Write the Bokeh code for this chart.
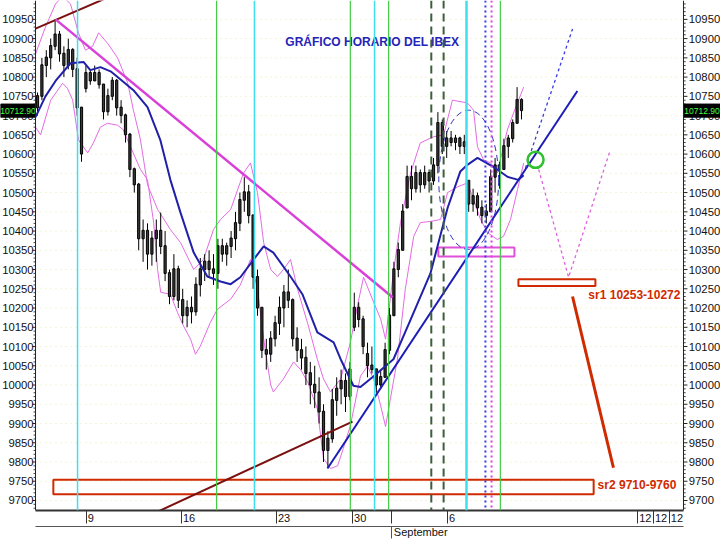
import numpy as np
from bokeh.plotting import figure
from bokeh.models import Range1d, LinearAxis, FixedTicker, Span
from bokeh.core.properties import value
from bokeh.embed import file_html
from bokeh.resources import INLINE

# ---------------- data (hourly bars) ----------------
bar_open = [10720, 10750, 10830, 10850, 10880, 10910, 10860, 10830, 10870, 10820,
            10720, 10770, 10810, 10790, 10810, 10780, 10710, 10750, 10790, 10720,
            10700, 10650, 10560, 10520, 10380, 10400, 10340, 10380, 10400, 10360,
            10290, 10230, 10300, 10220, 10180, 10200, 10190, 10260, 10300, 10320,
            10300, 10290, 10360, 10340, 10360, 10380, 10420, 10480, 10500, 10440,
            10280, 10200, 10090, 10080, 10120, 10160, 10200, 10240, 10220, 10120,
            10090, 10070, 10030, 10000, 9980, 9930, 9830, 9860, 9960, 9990,
            10010, 9970, 10150, 10200, 10170, 10080, 10050, 10040, 10000, 10020,
            10090, 10180, 10300, 10350, 10460, 10540, 10510, 10550, 10520, 10550,
            10530, 10570, 10680, 10620, 10640, 10630, 10640, 10620, 10530, 10470,
            10490, 10460, 10440, 10450, 10540, 10570, 10560, 10620, 10640, 10680,
            10740]
bar_high = [10760, 10850, 10870, 10900, 10950, 10920, 10880, 10900, 10875, 10850,
            10720, 10830, 10820, 10830, 10820, 10780, 10770, 10800, 10795, 10740,
            10705, 10655, 10565, 10525, 10430, 10420, 10400, 10430, 10448, 10400,
            10300, 10340, 10310, 10250, 10220, 10230, 10280, 10330, 10340, 10350,
            10340, 10380, 10380, 10370, 10400, 10450, 10500, 10540, 10520, 10440,
            10300, 10200, 10120, 10140, 10180, 10230, 10260, 10300, 10225, 10150,
            10120, 10100, 10060, 10050, 10020, 9950, 9880, 9990, 10020, 10040,
            10030, 10060, 10240, 10215, 10180, 10110, 10100, 10040, 10040, 10110,
            10200, 10320, 10370, 10470, 10570, 10570, 10570, 10560, 10570, 10560,
            10590, 10709, 10690, 10660, 10660, 10650, 10645, 10650, 10530, 10510,
            10500, 10480, 10470, 10560, 10590, 10580, 10640, 10650, 10690, 10774,
            10745]
bar_low = [10700, 10740, 10800, 10820, 10870, 10840, 10800, 10820, 10800, 10700,
           10580, 10760, 10780, 10790, 10770, 10690, 10700, 10740, 10700, 10680,
           10630, 10540, 10500, 10350, 10320, 10300, 10310, 10320, 10340, 10270,
           10210, 10220, 10200, 10160, 10150, 10160, 10180, 10230, 10270, 10280,
           10260, 10250, 10320, 10310, 10330, 10350, 10400, 10450, 10420, 10250,
           10180, 10070, 10040, 10060, 10100, 10130, 10150, 10200, 10100, 10060,
           10040, 10000, 9950, 9940, 9900, 9800, 9785, 9850, 9920, 9950,
           9930, 9960, 10140, 10150, 10080, 10020, 10030, 9980, 9990, 10020,
           10080, 10180, 10280, 10350, 10460, 10480, 10500, 10500, 10510, 10500,
           10520, 10550, 10600, 10590, 10620, 10610, 10600, 10600, 10450, 10450,
           10440, 10420, 10420, 10450, 10500, 10510, 10560, 10590, 10630, 10680,
           10690]
bar_close = [10750, 10830, 10850, 10880, 10910, 10860, 10830, 10870, 10820, 10720,
             10600, 10810, 10790, 10810, 10780, 10710, 10750, 10790, 10720, 10700,
             10650, 10560, 10520, 10380, 10400, 10340, 10380, 10400, 10360, 10290,
             10230, 10300, 10220, 10180, 10200, 10190, 10260, 10300, 10320, 10300,
             10290, 10360, 10340, 10360, 10380, 10420, 10480, 10500, 10440, 10280,
             10200, 10090, 10080, 10120, 10160, 10200, 10240, 10220, 10120, 10090,
             10070, 10030, 10000, 9980, 9930, 9830, 9860, 9960, 9990, 10010,
             9970, 10040, 10200, 10170, 10100, 10050, 10040, 10000, 10020, 10090,
             10180, 10300, 10350, 10450, 10540, 10510, 10550, 10520, 10550, 10530,
             10570, 10680, 10620, 10640, 10630, 10640, 10620, 10630, 10470, 10490,
             10460, 10440, 10450, 10540, 10570, 10560, 10620, 10640, 10680, 10740,
             10712.9]
last_price = 10712.90

# moving average (bar position, value)
ma_x = [-0.45, 1.8, 4.1, 7.5, 10.5, 12.0, 14.3, 16.6, 18.2, 21.8, 25.0, 27.9, 30.2, 32.5,
        35.5, 38.6, 41.6, 43.9, 46.1, 49.1, 51.4, 53.6, 57.5, 60.2, 63.6, 67.3, 68.9,
        71.8, 73.4, 76.4, 80.9, 84.8, 89.3, 93.2, 96.1, 97.7, 100.0, 103.6, 106.8, 109.3, 110.5]
ma_y = [10696, 10750, 10790, 10836, 10839, 10818, 10826, 10815, 10800, 10766, 10722, 10637,
        10533, 10448, 10344, 10282, 10269, 10262, 10280, 10326, 10360, 10344, 10282, 10236,
        10137, 10111, 10067, 9998, 9995, 10023, 10067, 10170, 10290, 10460, 10555, 10572,
        10590, 10567, 10541, 10533, 10545]

# upper envelope
up_x = [-0.45, 1.8, 4.1, 5.7, 7.5, 9.3, 10.9, 12.5, 13.9, 15.9, 18.2, 20.5, 21.8, 23.4,
        25.0, 27.3, 30.2, 32.5, 35.5, 37.7, 40.0, 41.6, 43.9, 46.8, 48.4, 50.0, 51.4, 53.0,
        54.5, 55.9, 57.5, 59.1, 61.4, 63.6, 65.0, 66.6, 68.9, 71.1, 72.7, 74.1, 76.4, 78.0,
        79.1, 80.9, 82.5, 84.8, 87.0, 90.0, 92.3, 94.3, 97.7, 99.1, 100.0, 101.4, 103.0,
        104.5, 106.8, 108.2, 110.5]
up_y = [10860, 10930, 10990, 11010, 10990, 10915, 10870, 10880, 10915, 10888, 10850, 10785,
        10714, 10637, 10520, 10456, 10404, 10370, 10300, 10326, 10404, 10430, 10456, 10550,
        10577, 10500, 10370, 10300, 10282, 10300, 10326, 10249, 10160, 10067, 10016, 9982,
        10016, 10110, 10205, 10280, 10215, 10171, 10119, 10293, 10422, 10551, 10629, 10645,
        10650, 10740, 10733, 10714, 10619, 10585, 10577, 10551, 10663, 10707, 10774]

# lower envelope
lo_x = [-0.45, 0.7, 3.0, 5.7, 6.8, 8.0, 9.3, 11.4, 12.7, 14.3, 15.9, 18.2, 19.5, 21.1,
        23.4, 25.0, 26.4, 27.3, 28.0, 30.2, 31.8, 33.2, 34.8, 35.9, 37.0, 39.3, 40.9, 43.9,
        46.1, 48.4, 50.0, 51.4, 53.0, 53.6, 55.9, 58.2, 59.8, 61.4, 63.6, 65.0, 66.6, 68.2,
        69.5, 71.1, 73.4, 75.0, 76.4, 78.0, 79.1, 80.2, 81.8, 83.6, 85.5, 87.0, 89.3, 91.6,
        93.2, 95.5, 97.7, 99.1, 100.7, 102.3, 104.5, 105.9, 107.5, 109.1, 110.5]
lo_y = [10670, 10650, 10740, 10784, 10771, 10740, 10637, 10603, 10629, 10670, 10680, 10675,
        10663, 10620, 10560, 10533, 10422, 10300, 10241, 10236, 10189, 10153, 10119, 10080,
        10101, 10163, 10197, 10223, 10260, 10326, 10250, 10120, 10000, 9982, 10016, 10060,
        10040, 10008, 9938, 9809, 9783, 9790, 9835, 9894, 10023, 10049, 10016, 9946, 9892,
        9964, 10067, 10250, 10386, 10422, 10425, 10430, 10500, 10515, 10525, 10482, 10430,
        10396, 10378, 10386, 10430, 10508, 10577]

# vertical time-cycle lines (bar positions)
cyan_x = [9.1, 49.3, 76.6]
cyan_wide_x = [97.5]
green_x = [40.7, 71.1, 79.8, 105.2]
dashed_x = [89.5, 92.3]
blue_dot_x = [101.8]
pink_dot_x = [103.2]

# trend lines: (x0, y0, x1, y1)
brown_lines = [(-0.45, 10926, 16.0, 11007), (26.0, 9664, 71.6, 9905)]
magenta_line = (4.1, 10950, 80.7, 10228)
blue_trend = (65.9, 9783, 122.7, 10764)
blue_proj = (110.9, 10564, 121.6, 10925)
pink_proj_x = [113.9, 120.7, 130.2]
pink_proj_y = [10560, 10280, 10611]
red_arrow = (121.6, 10230, 130.9, 9785)

# zones
sr_left = [109.3, 3.6]
sr_right = [126.8, 126.4]
sr_bottom = [10257, 9716]
sr_top = [10275, 9754]
sr_text = ["sr1 10253-10272", "sr2 9710-9760"]
sr_text_x = [125.2, 127.3]
sr_text_y = [10233, 9741]
mag_box = (91.1, 108.4, 10334, 10357)
ellipse_c = (98.0, 10533, 13.6, 362)
circle_c = (113.2, 10585)

title_text = "GRÁFICO HORARIO DEL IBEX"
title_pos = (76.1, 10890)

y_ticks = list(range(9700, 10951, 50))
y_minor = [v for v in range(9680, 10999, 10) if v % 50]
day_ticks = [11.1, 32.7, 54.3, 71.6, 80.5, 93.2, 136.4, 140.0, 143.6]
day_labels = ["9", "16", "23", "30", "", "6", "12", "12", "12"]
month_tick = [80.5]
month_label = ["September"]

# ---------------- layout constants ----------------
FONT = "Liberation Sans"
X0, X1 = -8.41, 155.23          # full canvas width, in bar units
AX_L, AX_R = -0.45, 146.82      # price-axis lines
Y0, Y1 = 9674, 10999

p = figure(width=720, height=540, output_backend="svg", toolbar_location=None,
           x_range=Range1d(X0, X1), y_range=Range1d(Y0, Y1),
           x_axis_location=None, y_axis_location=None,
           min_border_left=0, min_border_right=0, min_border_top=0, min_border_bottom=0)
p.background_fill_color = "white"
p.border_fill_color = "white"
p.outline_line_color = None
p.grid.visible = False

# faint dotted grid
n = len(y_ticks)
p.segment(x0=[AX_L] * n, y0=y_ticks, x1=[AX_R] * n, y1=y_ticks,
          line_color="#e9e8b0", line_dash="1 4", line_width=1)

# bottom date axes
nb = "\u00a0"
def pad(s):
    if not s:
        return ""
    k = 3 if len(s) == 1 else 5
    return nb * k + s

xa = LinearAxis(ticker=FixedTicker(ticks=day_ticks, minor_ticks=[]), bounds=(AX_L, AX_R))
xa.major_label_overrides = {t: pad(l) for t, l in zip(day_ticks, day_labels)}
xa.major_label_text_font = FONT
xa.major_label_text_font_size = "11px"
xa.major_label_text_color = "#111111"
xa.major_tick_out = 13
xa.major_tick_in = 0
xa.major_label_standoff = -12
xa.axis_line_width = 2
xa.axis_line_color = "#333333"
xa.major_tick_line_color = "#333333"
p.add_layout(xa, "below")

xb = LinearAxis(ticker=FixedTicker(ticks=month_tick, minor_ticks=[]), bounds=(AX_L, AX_R))
xb.major_label_overrides = {month_tick[0]: nb * 19 + month_label[0]}
xb.major_label_text_font = FONT
xb.major_label_text_font_size = "11px"
xb.major_label_text_color = "#111111"
xb.major_tick_out = 12
xb.major_tick_in = 0
xb.major_label_standoff = -13
xb.axis_line_color = "#555555"
xb.axis_line_width = 1
xb.major_tick_line_color = "#555555"
p.add_layout(xb, "below")

# price axes (lines, ticks, labels)
for xv in (AX_L, AX_R):
    p.add_layout(Span(location=xv, dimension="height", line_color="#222222", line_width=1))
m = len(y_minor)
p.segment(x0=[AX_L - 0.7] * n, y0=y_ticks, x1=[AX_L] * n, y1=y_ticks, line_color="#222222")
p.segment(x0=[AX_R] * n, y0=y_ticks, x1=[AX_R + 0.9] * n, y1=y_ticks, line_color="#222222")
p.segment(x0=[AX_L - 0.45] * m, y0=y_minor, x1=[AX_L] * m, y1=y_minor, line_color="#444444")
p.segment(x0=[AX_R] * m, y0=y_minor, x1=[AX_R + 0.5] * m, y1=y_minor, line_color="#444444")
labels = [str(v) for v in y_ticks]
p.text(x=[AX_L - 0.45] * n, y=y_ticks, text=labels, text_font=value(FONT),
       text_font_size="11.3px", text_color="#111111", text_align="right",
       text_baseline="middle")
p.text(x=[AX_R + 1.2] * n, y=y_ticks, text=labels, text_font=value(FONT),
       text_font_size="11.3px", text_color="#111111", text_align="left",
       text_baseline="middle")

# vertical cycle lines
for xv in cyan_x:
    p.add_layout(Span(location=xv, dimension="height", line_color="#3fe0ee", line_width=1.5))
for xv in cyan_wide_x:
    p.add_layout(Span(location=xv, dimension="height", line_color="#3fe0ee", line_width=2.5))
for xv in green_x:
    p.add_layout(Span(location=xv, dimension="height", line_color="#45cc45", line_width=1.2))
for xv in dashed_x:
    p.add_layout(Span(location=xv, dimension="height", line_color="#3d5e3d", line_width=2,
                      line_dash="8 5"))
for xv in blue_dot_x:
    p.add_layout(Span(location=xv, dimension="height", line_color="#3a3ae6", line_width=2,
                      line_dash="2 3"))
for xv in pink_dot_x:
    p.add_layout(Span(location=xv, dimension="height", line_color="#e040e0", line_width=2,
                      line_dash="2 3"))

# zones
p.quad(left=sr_left, right=sr_right, bottom=sr_bottom, top=sr_top,
       fill_color=None, line_color="#d02a00", line_width=2)
p.quad(left=[mag_box[0]], right=[mag_box[1]], bottom=[mag_box[2]], top=[mag_box[3]],
       fill_color=None, line_color="#e050d8", line_width=2)

# envelopes
p.line(up_x, up_y, line_color="#e46be4", line_width=1)
p.line(lo_x, lo_y, line_color="#e46be4", line_width=1)

# candles
x = np.arange(len(bar_close))
p.segment(x0=x, y0=bar_low, x1=x, y1=bar_high, line_color="black", line_width=1)
body_top = np.maximum(bar_open, bar_close)
body_bot = np.minimum(bar_open, bar_close)
p.vbar(x=x, bottom=body_bot, top=body_top + 2, width=0.5, fill_color="#3a3a3a",
       line_color="black", line_width=1)

p.line(ma_x, ma_y, line_color="#2020a8", line_width=2)

# trend lines
for (x0, y0, x1, y1) in brown_lines:
    p.line([x0, x1], [y0, y1], line_color="#7a1010", line_width=2)
p.line([magenta_line[0], magenta_line[2]], [magenta_line[1], magenta_line[3]],
       line_color="#d840d8", line_width=2.5)
p.line([blue_trend[0], blue_trend[2]], [blue_trend[1], blue_trend[3]],
       line_color="#1c1cb8", line_width=2)
p.line([blue_proj[0], blue_proj[2]], [blue_proj[1], blue_proj[3]],
       line_color="#3a3ae0", line_width=1.3, line_dash="3 3")
p.line(pink_proj_x, pink_proj_y, line_color="#e060e0", line_width=1.3, line_dash="3 3")
p.line([red_arrow[0], red_arrow[2]], [red_arrow[1], red_arrow[3]],
       line_color="#d02a00", line_width=3)

p.ellipse(x=[ellipse_c[0]], y=[ellipse_c[1]], width=ellipse_c[2], height=ellipse_c[3],
          fill_color=None, line_color="#3030c0", line_width=1, line_dash="6 4")
p.scatter(x=[circle_c[0]], y=[circle_c[1]], marker="circle", size=16,
          fill_color=None, line_color="#30c030", line_width=2.5)

# texts
p.text(x=sr_text_x, y=sr_text_y, text=sr_text, text_font=value(FONT),
       text_font_style="bold", text_font_size="12px", text_color="#d02a00",
       text_baseline="middle", text_align="left")
p.text(x=[title_pos[0]], y=[title_pos[1]], text=[title_text], text_font=value(FONT),
       text_font_style="bold", text_font_size="12px", text_color="#2424b8",
       text_baseline="middle", text_align="center")

# last-price boxes over both price axes
half = 17
p.quad(left=[X0, AX_R], right=[AX_L, X1], bottom=[last_price - half] * 2,
       top=[last_price + half] * 2, fill_color="black", line_color="black")
p.text(x=[(X0 + AX_L) / 2, (AX_R + X1) / 2], y=[last_price] * 2,
       text=["%.2f" % last_price] * 2, text_font=value(FONT), text_font_size="8.5px",
       text_color="#44ff44", text_baseline="middle", text_align="center")

open("out.html", "w").write(file_html(p, INLINE))
